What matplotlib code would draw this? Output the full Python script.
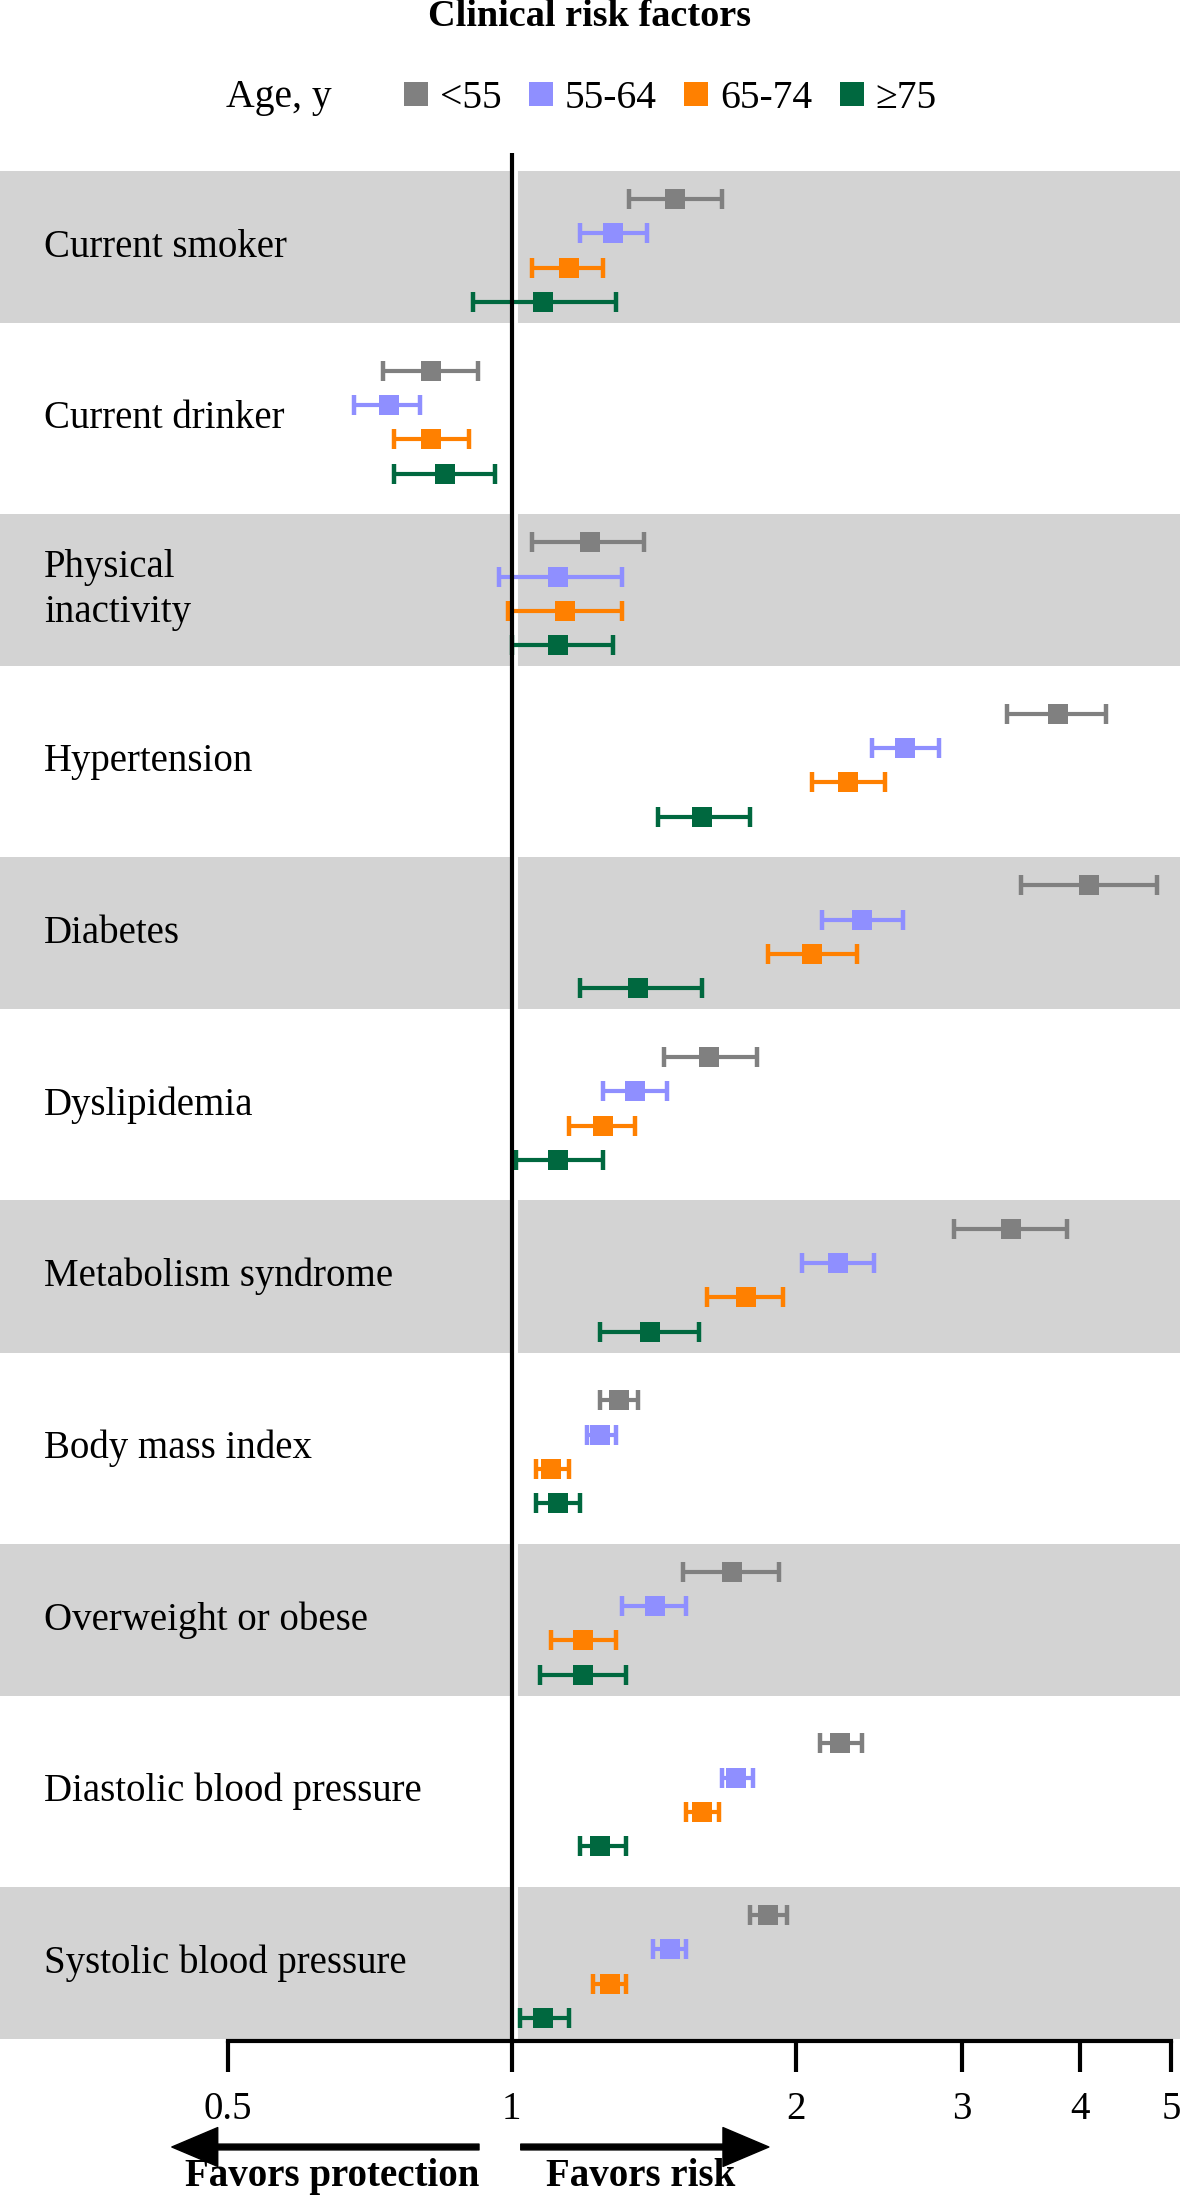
import numpy as np
import matplotlib.pyplot as plt
from matplotlib.lines import Line2D
from matplotlib import transforms

plt.rcParams['font.family'] = ['Liberation Serif', 'DejaVu Serif']

factors = ['Current smoker', 'Current drinker', 'Physical\ninactivity', 'Hypertension',
           'Diabetes', 'Dyslipidemia', 'Metabolism syndrome', 'Body mass index',
           'Overweight or obese', 'Diastolic blood pressure', 'Systolic blood pressure']
age_groups = ['<55', '55-64', '65-74', '≥75']
colors = ['#808080', '#8F8FFF', '#FF8000', '#00683F']

# odds ratio and 95% CI for each age group
or_lt55 = [1.49, 0.82, 1.21, 3.79, 4.09, 1.62, 3.38, 1.30, 1.71, 2.23, 1.87]
lo_lt55 = [1.33, 0.73, 1.05, 3.35, 3.47, 1.45, 2.94, 1.24, 1.52, 2.12, 1.79]
hi_lt55 = [1.67, 0.92, 1.38, 4.27, 4.83, 1.82, 3.88, 1.36, 1.92, 2.35, 1.96]

or_55_64 = [1.28, 0.74, 1.12, 2.61, 2.35, 1.35, 2.22, 1.24, 1.42, 1.73, 1.47]
lo_55_64 = [1.18, 0.68, 0.97, 2.41, 2.13, 1.25, 2.03, 1.20, 1.31, 1.67, 1.41]
hi_55_64 = [1.39, 0.80, 1.31, 2.84, 2.60, 1.46, 2.42, 1.29, 1.53, 1.80, 1.53]

or_65_74 = [1.15, 0.82, 1.14, 2.27, 2.08, 1.25, 1.77, 1.10, 1.19, 1.59, 1.27]
lo_65_74 = [1.05, 0.75, 0.99, 2.08, 1.87, 1.15, 1.61, 1.06, 1.10, 1.53, 1.22]
hi_65_74 = [1.25, 0.90, 1.31, 2.49, 2.32, 1.35, 1.94, 1.15, 1.29, 1.66, 1.32]

or_75 = [1.08, 0.85, 1.12, 1.59, 1.36, 1.12, 1.40, 1.12, 1.19, 1.24, 1.08]
lo_75 = [0.91, 0.75, 1.00, 1.43, 1.18, 1.01, 1.24, 1.06, 1.07, 1.18, 1.02]
hi_75 = [1.29, 0.96, 1.28, 1.79, 1.59, 1.25, 1.58, 1.18, 1.32, 1.32, 1.15]

xticks = [0.5, 1, 2, 3, 4, 5]
xtick_labels = ['0.5', '1', '2', '3', '4', '5']

series = [(or_lt55, lo_lt55, hi_lt55), (or_55_64, lo_55_64, hi_55_64),
          (or_65_74, lo_65_74, hi_65_74), (or_75, lo_75, hi_75)]

fig = plt.figure(figsize=(11.8, 21.98), dpi=100)
ax = fig.add_axes([0, 0.07143, 1, 0.85896])
ax.set_xscale('log')
ax.set_xlim(0.2866, 5.111)
ax.set_ylim(53.67, -1.34)

row_step = 5
rows = np.arange(len(factors)) * row_step

# shaded bands on every other row
for r in rows[::2]:
    ax.axhspan(r - 0.82, r + 3.61, color='#D3D3D3', lw=0, zorder=0)

for j, (vals, lo, hi) in enumerate(series):
    vals = np.array(vals)
    err = [vals - np.array(lo), np.array(hi) - vals]
    ax.errorbar(vals, rows + j, xerr=err, fmt='none', ecolor=colors[j],
                elinewidth=3.0, capsize=7.2, capthick=3.2, zorder=3)
    ax.plot(vals, rows + j, 's', ms=14.6, mew=0, color=colors[j], zorder=4)

# reference line at OR = 1 with a thin white gap beside it
gap = ax.axvline(1, color='white', lw=5, zorder=1)
gap.set_transform(gap.get_transform() + transforms.Affine2D().translate(2, 0))
ax.axvline(1, color='black', lw=3, zorder=5)

for r, name in zip(rows, factors):
    ax.text(0.037, r + 1.4, name, transform=ax.get_yaxis_transform(), ha='left',
            va='center', fontsize=28, linespacing=1.3)

for s in ['left', 'right', 'top']:
    ax.spines[s].set_visible(False)
ax.spines['bottom'].set_bounds(0.5, 5)
ax.spines['bottom'].set_linewidth(3)
ax.set_xticks(xticks, labels=xtick_labels)
ax.xaxis.set_minor_locator(plt.NullLocator())
ax.tick_params(axis='x', length=22, width=3, pad=14, labelsize=28)
ax.set_yticks([])

fig.text(0.5, 1 - 17 / 2198, 'Clinical risk factors', ha='center', va='center',
         fontsize=27.5, weight='bold')

fig.text(226 / 1180, 1 - 98 / 2198, 'Age, y', ha='left', va='center', fontsize=28.5)
handles = [Line2D([0], [0], marker='s', ls='none', ms=17, mew=0, color=c) for c in colors]
fig.legend(handles, age_groups, loc='center left', bbox_to_anchor=(404 / 1180, 1 - 98 / 2198),
           ncol=4, frameon=False, fontsize=28.5, handlelength=0.6, handletextpad=0.3,
           columnspacing=0.7, borderpad=0, borderaxespad=0)

# arrows under the axis
arrow_y = 2198 - 2147
for start, end in [(0.923, 0.436), (1.022, 1.873)]:
    ax.annotate('', xy=(end, arrow_y), xytext=(start, arrow_y),
                xycoords=('data', 'figure pixels'), textcoords=('data', 'figure pixels'),
                arrowprops=dict(arrowstyle='simple,head_length=1.18,head_width=1.0,tail_width=0.15',
                                mutation_scale=28, color='black', shrinkA=0, shrinkB=0),
                annotation_clip=False)

trans = transforms.blended_transform_factory(ax.transData, fig.transFigure)
ax.text(0.923, 3 / 2198, 'Favors protection', transform=trans, ha='right',
        va='bottom', fontsize=28, weight='bold')
ax.text(1.087, 3 / 2198, 'Favors risk', transform=trans, ha='left',
        va='bottom', fontsize=28, weight='bold')

fig.savefig('out.png', dpi=100)
